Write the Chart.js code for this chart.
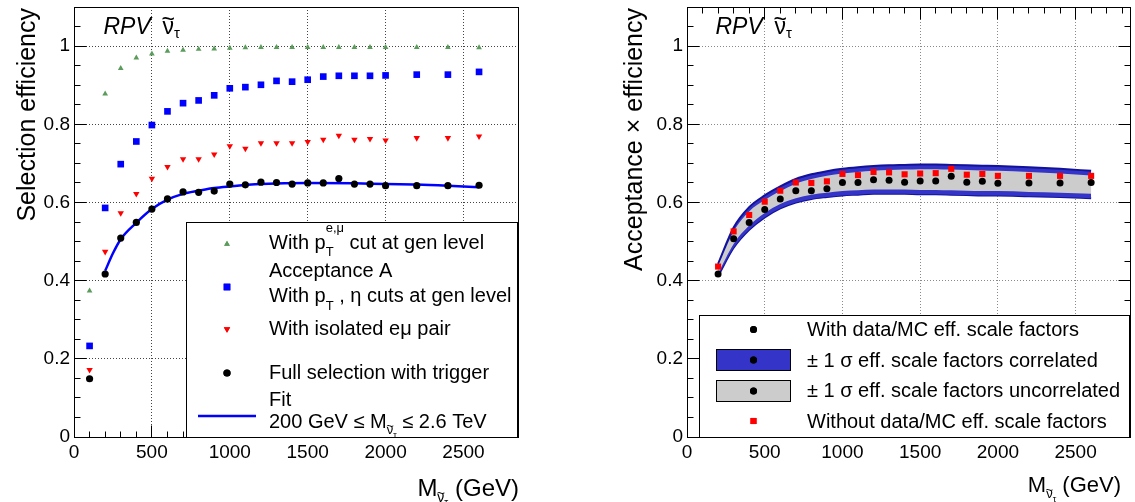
<!DOCTYPE html>
<html>
<head>
<meta charset="utf-8">
<script src="https://cdn.jsdelivr.net/npm/chart.js@4.4.1/dist/chart.umd.min.js"></script>
<style>
  html, body { margin: 0; padding: 0; background: #fff; }
  #wrap { position: relative; width: 1135px; height: 502px; overflow: hidden; background: #fff; }
  canvas { position: absolute; top: 0; }
</style>
</head>
<body>
<div id="wrap">
  <canvas id="effSel" width="590" height="502" style="left:0"></canvas>
  <canvas id="effSF" width="545" height="502" style="left:590px"></canvas>
</div>
<script>
const FONT = '"Liberation Sans", Arial, Helvetica, sans-serif';

// axis labels
const massTicks = [0, 500, 1000, 1500, 2000, 2500];
const effTicks = [0, 0.2, 0.4, 0.6, 0.8, 1];

// sneutrino mass points (GeV), left panel
const massSel = [100, 200, 300, 400, 500, 600, 700, 800, 900, 1000, 1100, 1200,
                 1300, 1400, 1500, 1600, 1700, 1800, 1900, 2000, 2200, 2400, 2600];
// with pT(e,mu) cut at generator level
const effPtCut = [0.374, 0.878, 0.943, 0.970, 0.980, 0.987, 0.990, 0.992, 0.993, 0.995, 0.996, 0.997,
                  0.997, 0.997, 0.997, 0.997, 0.997, 0.997, 0.997, 0.997, 0.997, 0.997, 0.996];
// acceptance A (pT, eta cuts at generator level)
const effAccept = [0.233, 0.586, 0.698, 0.756, 0.798, 0.833, 0.854, 0.861, 0.874, 0.892, 0.895, 0.901,
                   0.911, 0.909, 0.914, 0.922, 0.924, 0.924, 0.924, 0.925, 0.927, 0.927, 0.934];
// with isolated e-mu pair
const effIsoPair = [0.172, 0.474, 0.573, 0.622, 0.661, 0.691, 0.711, 0.711, 0.723, 0.744, 0.738, 0.752,
                    0.752, 0.752, 0.755, 0.761, 0.771, 0.761, 0.763, 0.759, 0.765, 0.765, 0.769];
// full selection with trigger
const effFull = [0.149, 0.417, 0.509, 0.549, 0.583, 0.609, 0.627, 0.626, 0.629, 0.647, 0.645, 0.652,
                 0.651, 0.647, 0.650, 0.650, 0.661, 0.647, 0.647, 0.643, 0.643, 0.643, 0.644];
// fit to the full selection, 200 GeV - 2.6 TeV
const fitMass = [200, 250, 300, 400, 500, 600, 700, 800, 900, 1000, 1200, 1500, 1800, 2000, 2200, 2400, 2600];
const fitEff = [0.425, 0.470, 0.506, 0.548, 0.583, 0.607, 0.622, 0.630, 0.637, 0.641, 0.647, 0.650,
                0.649, 0.647, 0.646, 0.643, 0.639];

// right panel: acceptance x efficiency with scale factors
const massSF = [200, 300, 400, 500, 600, 700, 800, 900, 1000, 1100, 1200, 1300,
                1400, 1500, 1600, 1700, 1800, 1900, 2000, 2200, 2400, 2600];
const effWithSF = [0.417, 0.507, 0.549, 0.582, 0.609, 0.630, 0.630, 0.635, 0.651, 0.651, 0.658, 0.657,
                   0.652, 0.655, 0.655, 0.667, 0.652, 0.654, 0.649, 0.650, 0.650, 0.651];
const effNoSF = [0.436, 0.526, 0.568, 0.602, 0.630, 0.651, 0.650, 0.654, 0.673, 0.670, 0.678, 0.677,
                 0.672, 0.674, 0.675, 0.686, 0.671, 0.673, 0.668, 0.668, 0.668, 0.668];
// +-1 sigma bands, correlated scale factors
const corrHigh = [0.443, 0.536, 0.588, 0.618, 0.641, 0.660, 0.672, 0.680, 0.686, 0.690, 0.693, 0.695,
                  0.696, 0.697, 0.697, 0.696, 0.695, 0.694, 0.693, 0.690, 0.686, 0.681];
const corrLow = [0.412, 0.484, 0.530, 0.562, 0.585, 0.600, 0.609, 0.614, 0.618, 0.620, 0.622, 0.622,
                 0.622, 0.621, 0.621, 0.620, 0.619, 0.618, 0.618, 0.616, 0.614, 0.611];
// +-1 sigma bands, uncorrelated scale factors
const uncorrHigh = [0.437, 0.526, 0.577, 0.606, 0.629, 0.648, 0.660, 0.668, 0.674, 0.678, 0.681, 0.683,
                    0.684, 0.685, 0.685, 0.684, 0.683, 0.682, 0.681, 0.678, 0.674, 0.669];
const uncorrLow = [0.418, 0.494, 0.541, 0.573, 0.596, 0.611, 0.620, 0.625, 0.629, 0.631, 0.633, 0.633,
                   0.633, 0.632, 0.632, 0.631, 0.630, 0.629, 0.629, 0.627, 0.625, 0.622];

const pts = (xs, ys) => xs.map((m, i) => ({ x: m, y: ys[i] }));

const GREEN = '#5b9b5b';

// draws a row of text pieces (sub/superscripts, tilde accent); returns width
function textRuns(ctx, x, y, runs, draw = true) {
  let cx = x, stackW = 0;
  for (const r of runs) {
    const s = r.s || 20;
    ctx.font = (r.italic ? 'italic ' : '') + s + 'px ' + FONT;
    const w = ctx.measureText(r.t).width;
    if (draw) {
      ctx.fillText(r.t, cx, y + (r.dy || 0));
      if (r.tilde) {
        ctx.save();
        ctx.textAlign = 'center';
        ctx.font = s + 'px ' + FONT;
        ctx.fillText('~', cx + w / 2, y + (r.dy || 0) - 0.3 * s);
        ctx.restore();
      }
    }
    if (r.stack) {
      stackW = Math.max(stackW, w);
    } else {
      cx += Math.max(w, stackW);
      stackW = 0;
    }
  }
  return cx - x;
}

const crisp = px => Math.round(px - 0.5) + 0.5;

// frame and ROOT-style inward ticks
function frameAndTicks(chart, sides, xMax) {
  const { ctx, chartArea: a } = chart;
  const xs = chart.scales.x, ys = chart.scales.y;
  const L = crisp(a.left), R = crisp(a.right), T = crisp(a.top), B = crisp(a.bottom);
  ctx.save();
  ctx.strokeStyle = '#000';
  ctx.lineWidth = 1;
  ctx.beginPath();
  for (let v = 0; v <= xMax; v += 100) {
    const px = crisp(xs.getPixelForValue(v));
    const len = v % 500 === 0 ? 12 : 6;
    if (sides.bottom) { ctx.moveTo(px, B); ctx.lineTo(px, B - len); }
    if (sides.top) { ctx.moveTo(px, T); ctx.lineTo(px, T + len); }
  }
  for (let i = 0; i <= 22; i++) {
    const py = crisp(ys.getPixelForValue(i * 0.05));
    const len = i % 4 === 0 ? 12 : 6;
    if (sides.left) { ctx.moveTo(L, py); ctx.lineTo(L + len, py); }
    if (sides.right) { ctx.moveTo(R, py); ctx.lineTo(R - len, py); }
  }
  ctx.stroke();
  ctx.strokeRect(L, T, R - L, B - T);
  ctx.restore();
}

function drawLabelRPV(ctx, x, y) {
  ctx.fillStyle = '#000';
  ctx.textAlign = 'left';
  ctx.textBaseline = 'alphabetic';
  ctx.font = 'italic 23px ' + FONT;
  ctx.fillText('RPV', x, y);
  textRuns(ctx, x + 59, y, [
    { t: 'ν', s: 23, tilde: true },
    { t: 'τ', s: 15, dy: 4 }
  ]);
}

function drawYTitle(ctx, text, x, y, size) {
  ctx.save();
  ctx.translate(x, y);
  ctx.rotate(-Math.PI / 2);
  ctx.textAlign = 'right';
  ctx.textBaseline = 'alphabetic';
  ctx.font = size + 'px ' + FONT;
  ctx.fillStyle = '#000';
  ctx.fillText(text, 0, 0);
  ctx.restore();
}

function drawXTitle(ctx, xRight, y, size) {
  const runs = [
    { t: 'M', s: size },
    { t: 'ν', s: Math.round(size * 0.58), dy: 6, tilde: true },
    { t: 'τ', s: Math.round(size * 0.42), dy: 10 },
    { t: ' (GeV)', s: size }
  ];
  ctx.fillStyle = '#000';
  ctx.textAlign = 'left';
  ctx.textBaseline = 'alphabetic';
  const w = textRuns(ctx, 0, 0, runs, false);
  textRuns(ctx, xRight - w, y, runs);
}

function drawMarker(ctx, style, x, y, r, color, rot) {
  ctx.save();
  ctx.fillStyle = color;
  ctx.strokeStyle = color;
  Chart.helpers.drawPoint(ctx, { pointStyle: style, radius: r, rotation: rot || 0, borderWidth: 0 }, x, y);
  ctx.fill();
  ctx.restore();
}

function baseScales(xMax, yWidth, gridColor) {
  const tickFont = { family: FONT, size: 19 };
  return {
    x: {
      type: 'linear', min: 0, max: xMax,
      afterFit: s => { s.height = 65; s.paddingLeft = 0; s.paddingRight = 0; },
      afterBuildTicks: s => { s.ticks = massTicks.map(v => ({ value: v })); },
      ticks: { autoSkip: false, maxRotation: 0, padding: 4, color: '#000', font: tickFont,
               callback: v => String(v) },
      grid: { color: gridColor, lineWidth: 1, drawTicks: false },
      border: { display: false, dash: [1, 2] }
    },
    y: {
      type: 'linear', min: 0, max: 1.1,
      afterFit: s => { s.width = yWidth; s.paddingTop = 0; s.paddingBottom = 0; },
      afterBuildTicks: s => { s.ticks = effTicks.map(v => ({ value: v })); },
      ticks: { autoSkip: false, padding: 4, color: '#000', font: tickFont, callback: v => String(v) },
      grid: { color: gridColor, lineWidth: 1, drawTicks: false },
      border: { display: false, dash: [1, 2] }
    }
  };
}

const common = {
  responsive: false,
  animation: false,
  devicePixelRatio: 1,
  events: [],
  plugins: { legend: { display: false }, tooltip: { enabled: false } }
};

// ---------- left: selection efficiency ----------
new Chart(document.getElementById('effSel'), {
  type: 'line',
  data: {
    datasets: [
      { data: pts(massSel, effPtCut), showLine: false, pointStyle: 'triangle', pointRadius: 3.3,
        pointBackgroundColor: GREEN, pointBorderWidth: 0 },
      { data: pts(massSel, effAccept), showLine: false, pointStyle: 'rect', pointRadius: 4.7,
        pointBackgroundColor: '#0000ff', pointBorderWidth: 0 },
      { data: pts(massSel, effIsoPair), showLine: false, pointStyle: 'triangle', pointRotation: 180,
        pointRadius: 3.7, pointBackgroundColor: '#ff0000', pointBorderWidth: 0 },
      { data: pts(massSel, effFull), showLine: false, pointStyle: 'circle', pointRadius: 3.6,
        pointBackgroundColor: '#000', pointBorderWidth: 0 },
      { data: pts(fitMass, fitEff), showLine: true, pointRadius: 0, borderColor: '#0000ff',
        borderWidth: 2.5, cubicInterpolationMode: 'monotone', fill: false }
    ]
  },
  options: Object.assign({}, common, {
    layout: { autoPadding: false, padding: { left: 0, right: 72, top: 7, bottom: 0 } },
    scales: baseScales(2850, 74, '#444')
  }),
  plugins: [{
    id: 'selDecor',
    afterDraw(chart) {
      const ctx = chart.ctx;
      frameAndTicks(chart, { left: true, bottom: true }, 2800);

      // legend box
      ctx.save();
      ctx.fillStyle = '#fff';
      ctx.strokeStyle = '#000';
      ctx.lineWidth = 1;
      ctx.fillRect(186, 222, 332, 215);
      ctx.strokeRect(186.5, 222.5, 331, 215);
      drawMarker(ctx, 'triangle', 227, 244, 3.3, GREEN);
      drawMarker(ctx, 'rect', 227, 287, 4.7, '#0000ff');
      drawMarker(ctx, 'triangle', 227, 329, 3.7, '#ff0000', 180);
      drawMarker(ctx, 'circle', 227, 373, 3.6, '#000');
      ctx.strokeStyle = '#0000ff';
      ctx.lineWidth = 2.5;
      ctx.beginPath();
      ctx.moveTo(198, 416);
      ctx.lineTo(256, 416);
      ctx.stroke();

      ctx.fillStyle = '#000';
      ctx.textAlign = 'left';
      ctx.textBaseline = 'alphabetic';
      textRuns(ctx, 269, 248.5, [
        { t: 'With p' }, { t: 'e,μ', s: 13, dy: -17, stack: true }, { t: 'T', s: 13, dy: 7 },
        { t: ' cut at gen level' }
      ]);
      textRuns(ctx, 269, 276.5, [{ t: 'Acceptance A' }]);
      textRuns(ctx, 269, 301.5, [{ t: 'With p' }, { t: 'T', s: 13, dy: 8 }, { t: ' , η cuts at gen level' }]);
      textRuns(ctx, 269, 334.5, [{ t: 'With isolated eμ pair' }]);
      textRuns(ctx, 269, 378.5, [{ t: 'Full selection with trigger' }]);
      textRuns(ctx, 269, 406, [{ t: 'Fit' }]);
      textRuns(ctx, 269, 427.5, [
        { t: '200 GeV ≤ M' }, { t: 'ν', s: 13, dy: 6, tilde: true }, { t: 'τ', s: 9, dy: 10 },
        { t: ' ≤ 2.6 TeV' }
      ]);
      ctx.restore();

      ctx.save();
      drawLabelRPV(ctx, 103.5, 33.5);
      drawYTitle(ctx, 'Selection efficiency', 35, 8, 25);
      drawXTitle(ctx, 519, 496, 24);
      ctx.restore();
    }
  }]
});

// ---------- right: acceptance x efficiency ----------
new Chart(document.getElementById('effSF'), {
  type: 'line',
  data: {
    datasets: [
      { data: pts(massSF, corrHigh), showLine: true, pointRadius: 0, borderColor: '#12129a',
        borderWidth: 2, backgroundColor: '#3434c8', fill: '+1', cubicInterpolationMode: 'monotone', order: 4 },
      { data: pts(massSF, corrLow), showLine: true, pointRadius: 0, borderColor: '#12129a',
        borderWidth: 2, fill: false, cubicInterpolationMode: 'monotone', order: 4 },
      { data: pts(massSF, uncorrHigh), showLine: true, pointRadius: 0, borderWidth: 0,
        borderColor: 'rgba(0,0,0,0)', backgroundColor: '#cccccc', fill: '+1',
        cubicInterpolationMode: 'monotone', order: 3 },
      { data: pts(massSF, uncorrLow), showLine: true, pointRadius: 0, borderWidth: 0,
        borderColor: 'rgba(0,0,0,0)', fill: false, cubicInterpolationMode: 'monotone', order: 3 },
      { data: pts(massSF, effWithSF), showLine: false, pointStyle: 'circle', pointRadius: 3.5,
        pointBackgroundColor: '#000', pointBorderWidth: 0, order: 1 },
      { data: pts(massSF, effNoSF), showLine: false, pointStyle: 'rect', pointRadius: 4.3,
        pointBackgroundColor: '#ff0000', pointBorderWidth: 0, order: 0 }
    ]
  },
  options: Object.assign({}, common, {
    layout: { autoPadding: false, padding: { left: 0, right: 5, top: 7, bottom: 0 } },
    scales: baseScales(2850, 97, '#8a8a8a')
  }),
  plugins: [{
    id: 'sfDecor',
    afterDraw(chart) {
      const ctx = chart.ctx;
      frameAndTicks(chart, { left: true, bottom: true, top: true, right: true }, 2800);

      // legend box
      ctx.save();
      ctx.fillStyle = '#fff';
      ctx.strokeStyle = '#000';
      ctx.lineWidth = 1;
      ctx.fillRect(109, 315, 431, 122);
      ctx.strokeRect(109.5, 315.5, 430, 122);

      ctx.fillStyle = '#3434c8';
      ctx.fillRect(126, 349.5, 75, 21);
      ctx.strokeRect(126.5, 349.5, 74, 21);
      ctx.fillStyle = '#cccccc';
      ctx.fillRect(126, 380.5, 75, 21);
      ctx.strokeRect(126.5, 380.5, 74, 21);

      drawMarker(ctx, 'circle', 163.5, 329.5, 3.5, '#000');
      drawMarker(ctx, 'circle', 163.5, 360, 3.5, '#000');
      drawMarker(ctx, 'circle', 163.5, 391, 3.5, '#000');
      drawMarker(ctx, 'rect', 163.5, 421, 4.3, '#ff0000');

      ctx.fillStyle = '#000';
      ctx.textAlign = 'left';
      ctx.textBaseline = 'alphabetic';
      textRuns(ctx, 217, 335.5, [{ t: 'With data/MC eff. scale factors' }]);
      textRuns(ctx, 217, 366.5, [{ t: '± 1 σ eff. scale factors correlated' }]);
      textRuns(ctx, 217, 397, [{ t: '± 1 σ eff. scale factors uncorrelated' }]);
      textRuns(ctx, 217, 427.5, [{ t: 'Without data/MC eff. scale factors' }]);
      ctx.restore();

      ctx.save();
      drawLabelRPV(ctx, 125.5, 33.5);
      drawYTitle(ctx, 'Acceptance × efficiency', 52, 8, 25);
      drawXTitle(ctx, 531, 492, 22);
      ctx.restore();
    }
  }]
});
</script>
</body>
</html>
